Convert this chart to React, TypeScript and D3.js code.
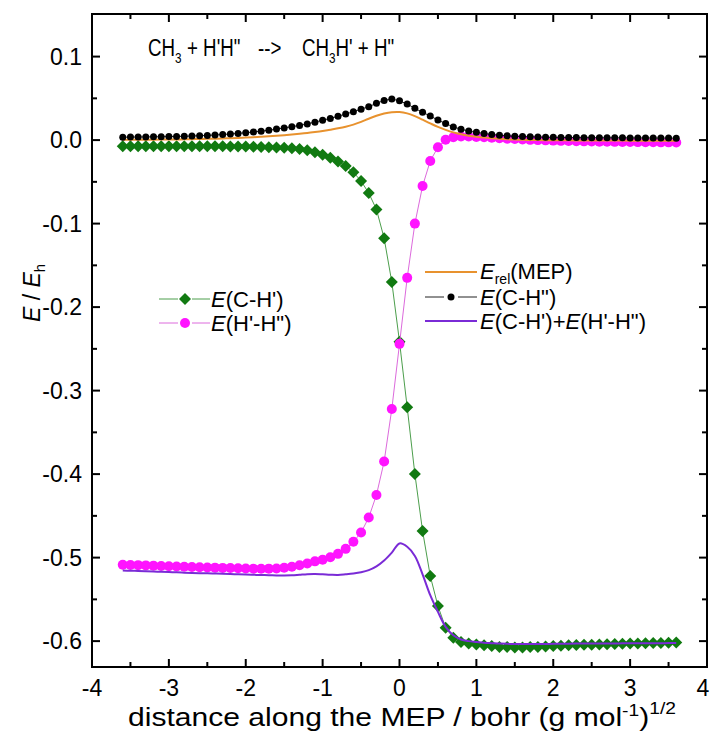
import React from "react";
import * as d3 from "d3";

// distance along the MEP (bohr (g/mol)^1/2)
const X = [
  -3.6, -3.5, -3.4, -3.3, -3.2, -3.1, -3.0, -2.9, -2.8, -2.7, -2.6, -2.5, -2.4, -2.3, -2.2, -2.1, -2.0,
  -1.9, -1.8, -1.7, -1.6, -1.5, -1.4, -1.3, -1.2, -1.1, -1.0,
  -0.9, -0.8, -0.7, -0.6, -0.5, -0.4, -0.3, -0.2, -0.1,
  0.0,
  0.1, 0.2, 0.3, 0.4, 0.5, 0.6, 0.7, 0.8, 0.9,
  1.0, 1.1, 1.2, 1.3, 1.4, 1.5, 1.6, 1.7, 1.8, 1.9,
  2.0, 2.1, 2.2, 2.3, 2.4, 2.5, 2.6, 2.7, 2.8, 2.9,
  3.0, 3.1, 3.2, 3.3, 3.4, 3.5, 3.6,
];

// E(C-H') green diamonds
const E_CH1 = [
  -0.0073, -0.0073, -0.0073, -0.0073, -0.0073, -0.0073, -0.0073, -0.0073, -0.0073, -0.0074, -0.0074, -0.0074, -0.0075, -0.0075, -0.0076, -0.0077, -0.0078,
  -0.008, -0.0082, -0.0085, -0.0089, -0.0093, -0.0098, -0.0108, -0.0122, -0.0145, -0.0175,
  -0.021, -0.0255, -0.031, -0.0385, -0.049, -0.0635, -0.083, -0.1175, -0.17,
  -0.2415,
  -0.32, -0.4, -0.468, -0.522, -0.558, -0.584, -0.596, -0.601, -0.603,
  -0.604, -0.605, -0.606, -0.607, -0.607, -0.6075, -0.6075, -0.607, -0.607, -0.6065,
  -0.606, -0.6055, -0.605, -0.6048, -0.6045, -0.6043, -0.604, -0.6038, -0.6035, -0.6033,
  -0.603, -0.6028, -0.6026, -0.6024, -0.6022, -0.602, -0.6018,
];

// E(H'-H'') magenta circles
const E_HH = [
  -0.5085, -0.5088, -0.509, -0.5093, -0.5096, -0.51, -0.5103, -0.5106, -0.511, -0.5112, -0.5115, -0.5118, -0.512, -0.5123, -0.5125, -0.5128, -0.513,
  -0.5132, -0.5133, -0.5132, -0.513, -0.5122, -0.511, -0.5092, -0.507, -0.5045, -0.5025,
  -0.4995, -0.4955, -0.4895, -0.481, -0.47, -0.452, -0.425, -0.385, -0.322,
  -0.244,
  -0.165, -0.1, -0.055, -0.025, -0.0085, 0.0005, 0.0035, 0.0043, 0.0042,
  0.0038, 0.0033, 0.0028, 0.0022, 0.0017, 0.0012, 0.0007, 0.0003, 0.0, -0.0003,
  -0.0006, -0.0009, -0.0011, -0.0013, -0.0015, -0.0017, -0.0019, -0.002, -0.0021, -0.0022,
  -0.0023, -0.0024, -0.0025, -0.0026, -0.0027, -0.0027, -0.0028,
];

// E_rel(MEP) orange line
const E_REL = [
  0.0003, 0.0003, 0.0004, 0.0004, 0.0005, 0.0006, 0.0007, 0.0008, 0.0009, 0.0011, 0.0013, 0.0015, 0.0017, 0.002, 0.0023, 0.0026, 0.003,
  0.0034, 0.0039, 0.0045, 0.0051, 0.0058, 0.0066, 0.0075, 0.0085, 0.0097, 0.011,
  0.0125, 0.0141, 0.016, 0.0185, 0.0218, 0.0256, 0.0291, 0.0318, 0.0334,
  0.0336,
  0.032, 0.0287, 0.0244, 0.02, 0.0158, 0.0122, 0.0092, 0.007, 0.0053,
  0.004, 0.003, 0.0022, 0.0015, 0.001, 0.0006, 0.0003, 0.0001, 0.0, -0.0001,
  -0.0002, -0.0003, -0.0003, -0.0004, -0.0004, -0.0005, -0.0005, -0.0006, -0.0006, -0.0006,
  -0.0007, -0.0007, -0.0007, -0.0008, -0.0008, -0.0008, -0.0008,
];

// E(C-H'') black dots
const E_CH2 = [
  0.0035, 0.0036, 0.0037, 0.0038, 0.0039, 0.004, 0.0042, 0.0044, 0.0046, 0.0049, 0.0052, 0.0056, 0.0061, 0.0067, 0.0073, 0.008, 0.0088,
  0.0097, 0.0107, 0.0118, 0.0132, 0.0146, 0.016, 0.0176, 0.0194, 0.0215, 0.0237,
  0.026, 0.0285, 0.0312, 0.034, 0.037, 0.04, 0.044, 0.0475, 0.0492,
  0.047,
  0.0432, 0.038, 0.0333, 0.0288, 0.024, 0.0198, 0.0158, 0.013, 0.0108,
  0.0093, 0.0079, 0.0067, 0.0058, 0.0051, 0.0046, 0.0042, 0.0039, 0.0037, 0.0035,
  0.0033, 0.0032, 0.0031, 0.003, 0.0029, 0.0029, 0.0028, 0.0028, 0.0027, 0.0027,
  0.0026, 0.0026, 0.0025, 0.0025, 0.0024, 0.0024, 0.0023,
];

// E(C-H') + E(H'-H'') purple line
const E_SUM = [
  -0.5155, -0.5157, -0.516, -0.5163, -0.5166, -0.517, -0.5173, -0.5176, -0.518, -0.5183, -0.5186, -0.5188, -0.519, -0.5193, -0.5196, -0.52, -0.5203,
  -0.5206, -0.5208, -0.521, -0.5213, -0.5214, -0.5212, -0.5205, -0.5198, -0.5196, -0.52,
  -0.5205, -0.5208, -0.52, -0.519, -0.5175, -0.515, -0.5105, -0.5035, -0.494,
  -0.483,
  -0.487, -0.498, -0.52, -0.545, -0.565, -0.583, -0.593, -0.598, -0.6,
  -0.601, -0.602, -0.6025, -0.603, -0.6033, -0.6035, -0.6036, -0.6036, -0.6035, -0.6034,
  -0.6033, -0.6032, -0.6031, -0.603, -0.603, -0.6029, -0.6029, -0.6028, -0.6028, -0.6027,
  -0.6027, -0.6026, -0.6026, -0.6025, -0.6025, -0.6024, -0.6024,
];

const X_TICKS = [-4, -3, -2, -1, 0, 1, 2, 3, 4];
const Y_TICKS = [-0.6, -0.5, -0.4, -0.3, -0.2, -0.1, 0.0, 0.1];

const W = 711;
const H = 733;
const L = 92, R = 707, T = 14, B = 667;
const FONT = "'Liberation Sans', Arial, sans-serif";

const GREEN = "#117a11";
const GREEN_LINE = "#4c9e4c";
const MAGENTA = "#ff14ff";
const MAGENTA_LINE = "#dc6adc";
const ORANGE = "#e8922e";
const PURPLE = "#7a2bd6";

export default function App() {
  const x = d3.scaleLinear().domain([-4, 4]).range([L, R]);
  const y = d3.scaleLinear().domain([-0.631, 0.151]).range([B, T]);

  const pts = (vals: number[]) => X.map((xv, i) => [xv, vals[i]] as [number, number]);
  const straight = d3.line<[number, number]>().x(d => x(d[0])).y(d => y(d[1]));
  const smooth = d3
    .line<[number, number]>()
    .x(d => x(d[0]))
    .y(d => y(d[1]))
    .curve(d3.curveCatmullRom.alpha(0.5));

  const xMinor = d3.range(-3.5, 4, 1);
  const yMinor = d3.range(-0.55, 0.1, 0.1);
  const diamond = (cx: number, cy: number, r: number) =>
    `M${cx},${cy - r}L${cx + r},${cy}L${cx},${cy + r}L${cx - r},${cy}Z`;

  return (
    <svg
      width={W}
      height={H}
      style={{ position: "absolute", left: 0, top: 0, background: "#fff" }}
      fontFamily={FONT}
    >
      {/* series */}
      <path d={straight(pts(E_CH1)) || ""} fill="none" stroke={GREEN_LINE} strokeWidth={1} />
      {X.map((xv, i) => (
        <path key={"g" + i} d={diamond(x(xv), y(E_CH1[i]), 6)} fill={GREEN} />
      ))}
      <path d={straight(pts(E_HH)) || ""} fill="none" stroke={MAGENTA_LINE} strokeWidth={1} />
      {X.map((xv, i) => (
        <circle key={"m" + i} cx={x(xv)} cy={y(E_HH[i])} r={5} fill={MAGENTA} />
      ))}
      <path d={smooth(pts(E_REL)) || ""} fill="none" stroke={ORANGE} strokeWidth={2} />
      <path d={straight(pts(E_CH2)) || ""} fill="none" stroke="#222" strokeWidth={1} />
      {X.map((xv, i) => (
        <circle key={"k" + i} cx={x(xv)} cy={y(E_CH2[i])} r={3.5} fill="#000" />
      ))}
      <path d={smooth(pts(E_SUM)) || ""} fill="none" stroke={PURPLE} strokeWidth={2} />

      {/* frame */}
      <rect x={L} y={T} width={R - L} height={B - T} fill="none" stroke="#000" strokeWidth={2} />

      {/* x ticks */}
      {X_TICKS.map(t => (
        <g key={"xt" + t}>
          <line x1={x(t)} x2={x(t)} y1={B} y2={B - 8} stroke="#000" strokeWidth={2} />
          <line x1={x(t)} x2={x(t)} y1={T} y2={T + 8} stroke="#000" strokeWidth={2} />
          <text x={Math.min(x(t), 703)} y={696} textAnchor="middle" fontSize={23}>
            {String(t)}
          </text>
        </g>
      ))}
      {xMinor.map(t => (
        <g key={"xm" + t}>
          <line x1={x(t)} x2={x(t)} y1={B} y2={B - 5} stroke="#000" strokeWidth={2} />
          <line x1={x(t)} x2={x(t)} y1={T} y2={T + 5} stroke="#000" strokeWidth={2} />
        </g>
      ))}

      {/* y ticks */}
      {Y_TICKS.map(t => (
        <g key={"yt" + t}>
          <line x1={L} x2={L + 8} y1={y(t)} y2={y(t)} stroke="#000" strokeWidth={2} />
          <line x1={R} x2={R - 8} y1={y(t)} y2={y(t)} stroke="#000" strokeWidth={2} />
          <text x={82} y={y(t) + 8} textAnchor="end" fontSize={23}>
            {t.toFixed(1)}
          </text>
        </g>
      ))}
      {yMinor.map(t => (
        <g key={"ym" + t}>
          <line x1={L} x2={L + 5} y1={y(t)} y2={y(t)} stroke="#000" strokeWidth={2} />
          <line x1={R} x2={R - 5} y1={y(t)} y2={y(t)} stroke="#000" strokeWidth={2} />
        </g>
      ))}

      {/* axis titles */}
      <text x={128} y={726} fontSize={25} textLength={548} lengthAdjust="spacingAndGlyphs">
        distance along the MEP / bohr (g mol
        <tspan fontSize={16} dy={-10}>-1</tspan>
        <tspan dy={10}>)</tspan>
        <tspan fontSize={16} dy={-12}>1/2</tspan>
      </text>
      <text transform="translate(40,293) rotate(-90)" textAnchor="middle" fontSize={23}>
        <tspan fontStyle="italic">E</tspan>
        <tspan>{"  /  "}</tspan>
        <tspan fontStyle="italic">E</tspan>
        <tspan fontSize={15} dy={5}>h</tspan>
      </text>

      {/* reaction title, condensed */}
      <g transform="translate(148,56) scale(0.78,1)" fontSize={24}>
        <text x={0} y={0}>CH</text>
        <text x={34.7} y={7} fontSize={15}>3</text>
        <text x={50} y={0}>{"+ H'H\""}</text>
        <text x={141} y={0}>{"-->"}</text>
        <text x={197.4} y={0}>CH</text>
        <text x={232.1} y={7} fontSize={15}>3</text>
        <text x={240.4} y={0}>{"H' + H\""}</text>
      </g>

      {/* legend 1 */}
      <g fontSize={22}>
        <line x1={159} x2={178} y1={299} y2={299} stroke={GREEN_LINE} strokeWidth={1} />
        <line x1={192} x2={210} y1={299} y2={299} stroke={GREEN_LINE} strokeWidth={1} />
        <path d={diamond(185, 299, 6)} fill={GREEN} />
        <text x={211} y={307}>
          <tspan fontStyle="italic">E</tspan>(C-H')
        </text>
        <line x1={159} x2={178} y1={323} y2={323} stroke={MAGENTA_LINE} strokeWidth={1} />
        <line x1={192} x2={210} y1={323} y2={323} stroke={MAGENTA_LINE} strokeWidth={1} />
        <circle cx={185} cy={323} r={5} fill={MAGENTA} />
        <text x={211} y={331}>
          <tspan fontStyle="italic">E</tspan>(H'-H")
        </text>
      </g>

      {/* legend 2 */}
      <g fontSize={22}>
        <line x1={425} x2={477} y1={272} y2={272} stroke={ORANGE} strokeWidth={2} />
        <text x={480} y={279}>
          <tspan fontStyle="italic">E</tspan>
          <tspan fontSize={14} dy={5}>rel</tspan>
          <tspan dy={-5}>(MEP)</tspan>
        </text>
        <line x1={425} x2={444} y1={297} y2={297} stroke="#222" strokeWidth={1} />
        <line x1={458} x2={477} y1={297} y2={297} stroke="#222" strokeWidth={1} />
        <circle cx={451} cy={297} r={3.5} fill="#000" />
        <text x={480} y={305}>
          <tspan fontStyle="italic">E</tspan>(C-H")
        </text>
        <line x1={425} x2={477} y1={321} y2={321} stroke={PURPLE} strokeWidth={2} />
        <text x={480} y={329}>
          <tspan fontStyle="italic">E</tspan>(C-H')+<tspan fontStyle="italic">E</tspan>(H'-H")
        </text>
      </g>
    </svg>
  );
}
